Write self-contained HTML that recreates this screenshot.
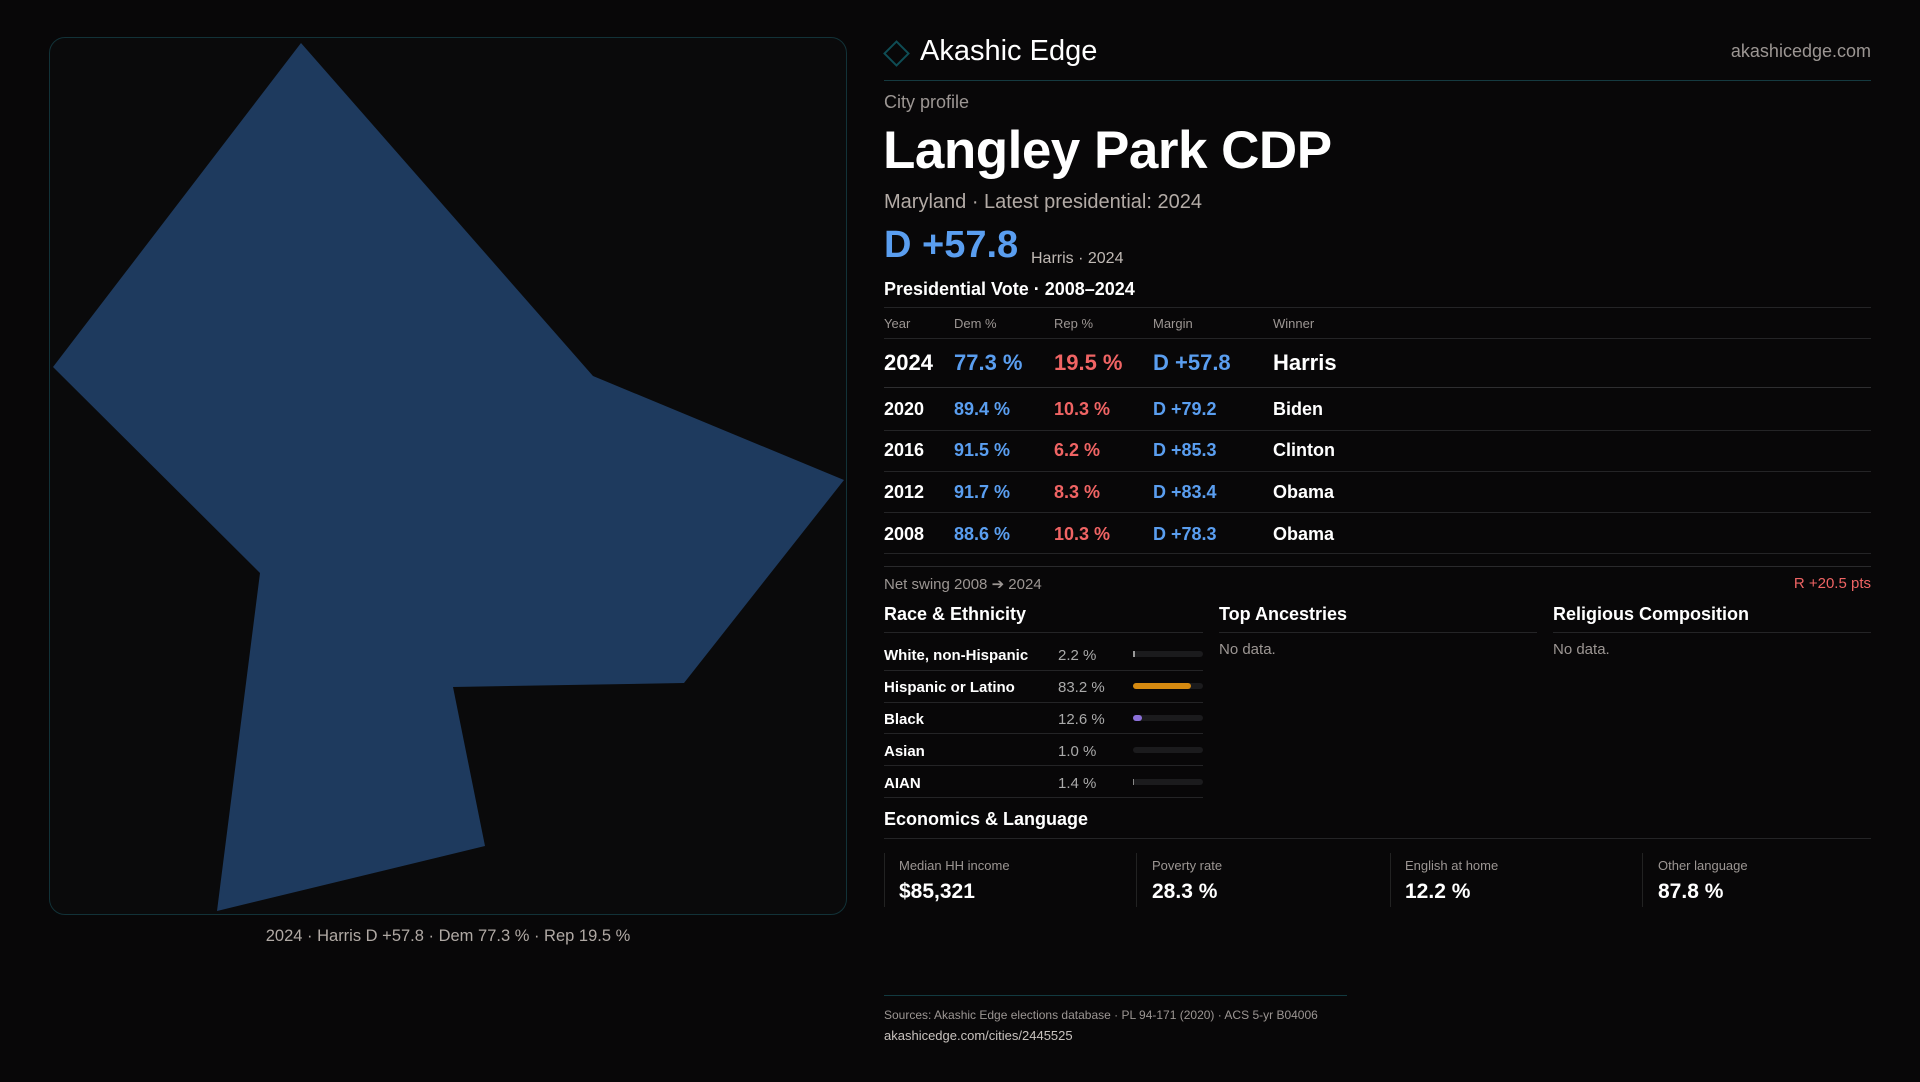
<!DOCTYPE html>
<html><head><meta charset="utf-8"><style>
*{margin:0;padding:0;box-sizing:border-box}
body{width:1920px;height:1080px;background:#080708;font-family:"Liberation Sans",sans-serif;color:#fff;position:relative;overflow:hidden}
.a{position:absolute;white-space:nowrap}
.g{color:#9c9693}
.hl{position:absolute;height:1px;background:#242426}
.bar{position:absolute;left:1133px;width:70px;height:6px;border-radius:3px;background:#1b1b1d}
.bar i{position:absolute;left:0;top:0;height:6px;border-radius:3px;display:block}
.card{position:absolute;top:853px;height:54px;border-left:1px solid #222}
.t{position:absolute;left:0;top:2px;width:1920px;height:1080px}
</style></head><body>
<div class="a" style="left:49px;top:37px;width:798px;height:878px;border:1px solid #123238;border-radius:16px;background:#0a0a0b"></div>
<svg class="a" style="left:0;top:0" width="900" height="960"><polygon points="301,43 593,376 844,480 684,683 453,687 485,846 217,911 260,573 53,367" fill="#1e3a5e"/></svg>
<div class="a" style="left:448px;top:927px;transform:translateX(-50%);font-size:16.5px;color:#b0a9a4">2024 · Harris D +57.8 · Dem 77.3 % · Rep 19.5 %</div>

<div class="a" style="left:887px;top:44px;width:19px;height:19px;border:2px solid #0f4d55;transform:rotate(45deg)"></div>
<div class="a" style="left:920px;top:35px;font-size:29px;font-weight:500">Akashic Edge</div>
<div class="a g" style="right:49px;top:41px;font-size:18px">akashicedge.com</div>
<div class="hl" style="left:884px;width:987px;top:80px;background:#153a40"></div>
<div class="t">
<div class="a g" style="left:884px;top:90px;font-size:18px">City profile</div>
<div class="a" style="left:883px;top:118px;font-size:53px;font-weight:bold;letter-spacing:-0.5px">Langley Park CDP</div>
<div class="a" style="left:884px;top:189px;font-size:20px;color:#b3aba6">Maryland · Latest presidential: 2024</div>
<div class="a" style="left:884px;top:222px;font-size:38px;font-weight:bold;color:#5a9ef0">D +57.8</div>
<div class="a" style="left:1031px;top:248px;font-size:16px;color:#c0b9b4">Harris · 2024</div>
<div class="a" style="left:884px;top:277px;font-size:18px;font-weight:bold">Presidential Vote · 2008–2024</div>
<div class="a g" style="left:884px;top:314px;font-size:13px">Year</div>
<div class="a g" style="left:954px;top:314px;font-size:13px">Dem %</div>
<div class="a g" style="left:1054px;top:314px;font-size:13px">Rep %</div>
<div class="a g" style="left:1153px;top:314px;font-size:13px">Margin</div>
<div class="a g" style="left:1273px;top:314px;font-size:13px">Winner</div>
<div class="a" style="left:884px;top:348px;font-size:22px;font-weight:bold">2024</div>
<div class="a" style="left:954px;top:348px;font-size:22px;font-weight:bold;color:#5a9ef0">77.3 %</div>
<div class="a" style="left:1054px;top:348px;font-size:22px;font-weight:bold;color:#f06464">19.5 %</div>
<div class="a" style="left:1153px;top:348px;font-size:22px;font-weight:bold;color:#5a9ef0">D +57.8</div>
<div class="a" style="left:1273px;top:348px;font-size:22px;font-weight:bold">Harris</div>
<div style="position:absolute;left:0;top:0;font-size:18px;font-weight:bold">
<div class="a" style="left:884px;top:397px">2020</div><div class="a" style="left:954px;top:397px;color:#5a9ef0">89.4 %</div><div class="a" style="left:1054px;top:397px;color:#f06464">10.3 %</div><div class="a" style="left:1153px;top:397px;color:#5a9ef0">D +79.2</div><div class="a" style="left:1273px;top:397px">Biden</div>
<div class="a" style="left:884px;top:438px">2016</div><div class="a" style="left:954px;top:438px;color:#5a9ef0">91.5 %</div><div class="a" style="left:1054px;top:438px;color:#f06464">6.2 %</div><div class="a" style="left:1153px;top:438px;color:#5a9ef0">D +85.3</div><div class="a" style="left:1273px;top:438px">Clinton</div>
<div class="a" style="left:884px;top:480px">2012</div><div class="a" style="left:954px;top:480px;color:#5a9ef0">91.7 %</div><div class="a" style="left:1054px;top:480px;color:#f06464">8.3 %</div><div class="a" style="left:1153px;top:480px;color:#5a9ef0">D +83.4</div><div class="a" style="left:1273px;top:480px">Obama</div>
<div class="a" style="left:884px;top:522px">2008</div><div class="a" style="left:954px;top:522px;color:#5a9ef0">88.6 %</div><div class="a" style="left:1054px;top:522px;color:#f06464">10.3 %</div><div class="a" style="left:1153px;top:522px;color:#5a9ef0">D +78.3</div><div class="a" style="left:1273px;top:522px">Obama</div>
</div>
<div class="a g" style="left:884px;top:573px;font-size:15px">Net swing 2008 ➔ 2024</div>
<div class="a" style="right:49px;top:573px;font-size:15px;color:#ef6464">R +20.5 pts</div>
<div class="a" style="left:884px;top:602px;font-size:18px;font-weight:bold">Race &amp; Ethnicity</div>
<div class="a" style="left:1219px;top:602px;font-size:18px;font-weight:bold">Top Ancestries</div>
<div class="a" style="left:1553px;top:602px;font-size:18px;font-weight:bold">Religious Composition</div>
<div class="a g" style="left:1219px;top:639px;font-size:15px">No data.</div>
<div class="a g" style="left:1553px;top:639px;font-size:15px">No data.</div>
<div style="position:absolute;left:0;top:0;font-size:15px;font-weight:bold">
<div class="a" style="left:884px;top:645px">White, non-Hispanic</div><div class="a" style="left:1058px;top:645px;color:#aaa;font-weight:normal">2.2 %</div>
<div class="a" style="left:884px;top:677px">Hispanic or Latino</div><div class="a" style="left:1058px;top:677px;color:#aaa;font-weight:normal">83.2 %</div>
<div class="a" style="left:884px;top:709px">Black</div><div class="a" style="left:1058px;top:709px;color:#aaa;font-weight:normal">12.6 %</div>
<div class="a" style="left:884px;top:741px">Asian</div><div class="a" style="left:1058px;top:741px;color:#aaa;font-weight:normal">1.0 %</div>
<div class="a" style="left:884px;top:773px">AIAN</div><div class="a" style="left:1058px;top:773px;color:#aaa;font-weight:normal">1.4 %</div>
</div>
<div class="a" style="left:884px;top:807px;font-size:18px;font-weight:bold">Economics &amp; Language</div>
<div class="a g" style="left:899px;top:856px;font-size:13px">Median HH income</div>
<div class="a g" style="left:1152px;top:856px;font-size:13px">Poverty rate</div>
<div class="a g" style="left:1405px;top:856px;font-size:13px">English at home</div>
<div class="a g" style="left:1658px;top:856px;font-size:13px">Other language</div>
<div class="a" style="left:899px;top:878px;font-size:21px;font-weight:bold">$85,321</div>
<div class="a" style="left:1152px;top:878px;font-size:21px;font-weight:bold">28.3 %</div>
<div class="a" style="left:1405px;top:878px;font-size:21px;font-weight:bold">12.2 %</div>
<div class="a" style="left:1658px;top:878px;font-size:21px;font-weight:bold">87.8 %</div>
<div class="a g" style="left:884px;top:1006px;font-size:12px">Sources: Akashic Edge elections database · PL 94-171 (2020) · ACS 5-yr B04006</div>
<div class="a" style="left:884px;top:1026px;font-size:13px;color:#c8c2be">akashicedge.com/cities/2445525</div>
</div>

<div class="hl" style="left:884px;width:987px;top:307px"></div>
<div class="hl" style="left:884px;width:987px;top:338px"></div>
<div class="hl" style="left:884px;width:987px;top:387px;background:#2e2e30"></div>
<div class="hl" style="left:884px;width:987px;top:430px"></div>
<div class="hl" style="left:884px;width:987px;top:471px"></div>
<div class="hl" style="left:884px;width:987px;top:512px"></div>
<div class="hl" style="left:884px;width:987px;top:553px"></div>
<div class="hl" style="left:884px;width:987px;top:566px;background:#2a2a2c"></div>
<div class="hl" style="left:884px;width:319px;top:632px"></div>
<div class="hl" style="left:1219px;width:318px;top:632px"></div>
<div class="hl" style="left:1553px;width:318px;top:632px"></div>
<div class="bar" style="top:651px"><i style="width:2px;background:#999;border-radius:0"></i></div>
<div class="bar" style="top:683px"><i style="width:58px;background:#d68a10"></i></div>
<div class="bar" style="top:715px"><i style="width:9px;background:#8b70d8"></i></div>
<div class="bar" style="top:747px"></div>
<div class="bar" style="top:779px"><i style="width:1px;background:#888;border-radius:0"></i></div>
<div class="hl" style="left:884px;width:319px;top:670px"></div>
<div class="hl" style="left:884px;width:319px;top:702px"></div>
<div class="hl" style="left:884px;width:319px;top:733px"></div>
<div class="hl" style="left:884px;width:319px;top:765px"></div>
<div class="hl" style="left:884px;width:319px;top:797px"></div>
<div class="hl" style="left:884px;width:987px;top:838px"></div>
<div class="card" style="left:884px"></div><div class="card" style="left:1136px"></div><div class="card" style="left:1390px"></div><div class="card" style="left:1642px"></div>
<div class="hl" style="left:884px;width:463px;top:995px;background:#123a40"></div>
</body></html>
